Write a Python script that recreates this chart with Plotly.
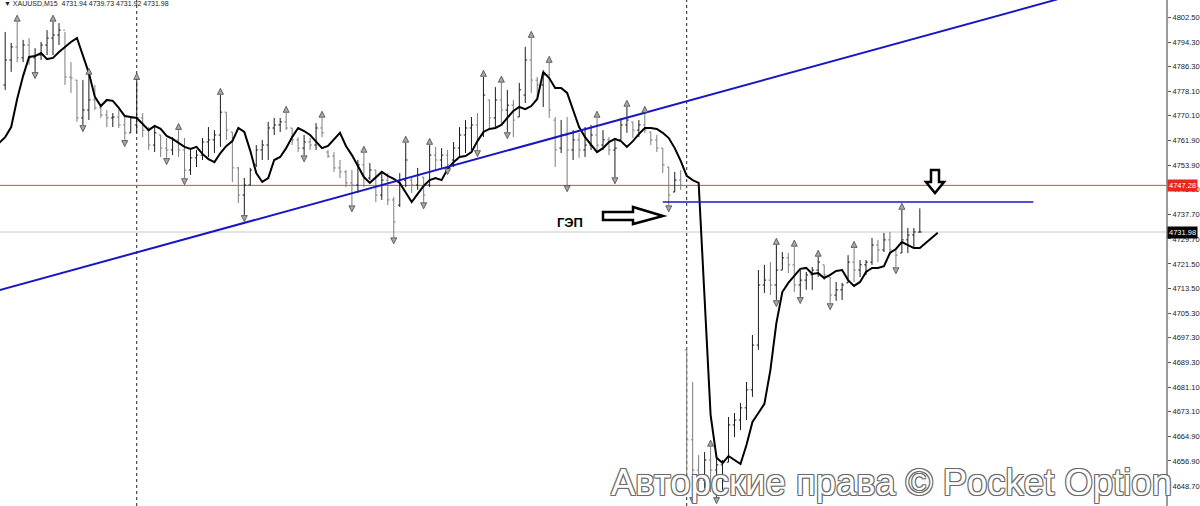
import plotly.graph_objects as go

# ---------------- data (XAUUSD, M15) ----------------
open_ = [
    4780.2, 4788.4, 4792.7, 4789.1, 4793.3, 4789.1, 4790.0, 4793.3, 4795.6, 4796.6,
    4798.2, 4782.8, 4781.8, 4769.4, 4772.0, 4775.3, 4772.7, 4770.4, 4769.4, 4769.7,
    4767.1, 4764.5, 4767.1, 4769.4, 4765.4, 4760.5, 4763.8, 4759.5, 4758.9, 4762.2,
    4758.9, 4752.3, 4756.3, 4757.2, 4761.5, 4762.2, 4763.8, 4771.3, 4764.8, 4753.0,
    4744.1, 4747.4, 4754.0, 4758.9, 4760.5, 4766.1, 4767.1, 4768.1, 4766.1, 4762.2,
    4759.5, 4761.5, 4760.5, 4766.1, 4758.2, 4756.9, 4753.0, 4751.7, 4748.1, 4747.4,
    4754.0, 4749.7, 4752.3, 4744.1, 4749.0, 4742.5, 4740.8, 4749.0, 4749.0, 4747.4,
    4750.0, 4747.4, 4757.2, 4755.6, 4757.2, 4755.6, 4759.5, 4763.8, 4766.1, 4767.1,
    4763.8, 4775.3, 4769.4, 4775.3, 4772.0, 4773.6, 4769.7, 4776.9, 4788.4, 4781.8,
    4780.2, 4783.5, 4768.7, 4759.5, 4763.8, 4758.9, 4762.2, 4758.9, 4760.5, 4763.8,
    4760.5, 4762.2, 4758.9, 4762.2, 4767.1, 4768.1, 4765.4, 4767.1, 4764.8, 4762.2,
    4759.5, 4753.3, 4745.1, 4749.0, 4693.3, 4663.8, 4653.9, 4650.6, 4657.2, 4653.9,
    4655.6, 4656.5, 4668.7, 4670.3, 4674.3, 4680.2, 4694.9, 4714.6, 4716.2, 4714.6,
    4719.5, 4723.5, 4721.2, 4714.6, 4716.2, 4717.9, 4719.5, 4721.2, 4717.2, 4711.3,
    4713.0, 4715.3, 4722.1, 4719.5, 4721.2, 4722.1, 4727.7, 4726.1, 4729.4, 4726.1,
    4725.1, 4729.4, 4731.0, 4731.94,
]
high = [
    4797.6, 4794.0, 4800.9, 4795.0, 4795.6, 4792.3, 4794.3, 4798.2, 4800.9, 4800.5,
    4797.6, 4787.7, 4781.8, 4781.8, 4783.5, 4780.2, 4773.6, 4772.0, 4771.0, 4772.0,
    4769.7, 4769.7, 4781.8, 4771.0, 4766.4, 4767.1, 4763.8, 4762.8, 4763.1, 4765.4,
    4762.8, 4758.9, 4758.9, 4762.8, 4766.4, 4765.4, 4776.9, 4771.3, 4764.8, 4753.3,
    4749.7, 4753.0, 4760.5, 4762.2, 4768.1, 4769.4, 4769.4, 4771.0, 4766.1, 4763.1,
    4763.8, 4762.8, 4767.7, 4769.4, 4758.9, 4758.2, 4755.6, 4752.3, 4752.3, 4755.6,
    4757.9, 4754.6, 4752.3, 4751.7, 4751.3, 4743.5, 4751.3, 4761.2, 4750.0, 4753.0,
    4750.0, 4760.5, 4759.9, 4759.5, 4758.9, 4761.5, 4766.4, 4768.7, 4769.7, 4771.0,
    4782.8, 4775.3, 4779.5, 4780.9, 4778.6, 4775.3, 4780.9, 4792.7, 4795.6, 4782.8,
    4785.1, 4787.4, 4769.7, 4768.7, 4769.7, 4765.4, 4764.5, 4766.4, 4767.1, 4769.4,
    4765.4, 4763.1, 4762.2, 4769.4, 4773.0, 4768.1, 4768.7, 4771.0, 4764.8, 4763.8,
    4759.5, 4753.3, 4751.7, 4752.3, 4694.3, 4682.8, 4658.8, 4659.8, 4661.5, 4658.8,
    4657.2, 4671.3, 4672.6, 4675.9, 4682.8, 4698.2, 4719.5, 4721.2, 4722.1, 4727.7,
    4725.4, 4725.1, 4727.1, 4719.5, 4718.9, 4720.5, 4723.8, 4721.2, 4717.2, 4715.6,
    4715.3, 4724.4, 4726.7, 4722.8, 4722.8, 4730.0, 4729.4, 4731.7, 4732.0, 4726.1,
    4739.2, 4733.3, 4733.3, 4739.73,
]
low = [
    4778.6, 4784.5, 4787.7, 4787.7, 4786.8, 4784.5, 4788.4, 4790.0, 4790.0, 4793.3,
    4780.2, 4777.6, 4768.1, 4767.1, 4768.7, 4772.0, 4769.4, 4766.4, 4766.4, 4766.1,
    4762.2, 4764.5, 4764.5, 4763.1, 4758.9, 4758.2, 4756.6, 4756.3, 4757.2, 4756.6,
    4749.7, 4750.7, 4753.3, 4755.6, 4756.6, 4757.9, 4759.9, 4762.2, 4748.4, 4741.5,
    4737.6, 4747.4, 4753.3, 4755.6, 4755.6, 4763.8, 4764.8, 4765.4, 4760.5, 4758.2,
    4757.2, 4758.9, 4758.9, 4763.1, 4756.3, 4751.7, 4749.7, 4746.7, 4740.8, 4744.8,
    4746.7, 4749.0, 4741.8, 4742.5, 4740.8, 4730.3, 4740.2, 4746.7, 4744.8, 4745.8,
    4741.8, 4746.7, 4752.3, 4753.0, 4753.0, 4753.3, 4756.6, 4757.9, 4758.9, 4758.9,
    4763.1, 4765.4, 4766.4, 4767.7, 4764.8, 4763.1, 4769.7, 4774.3, 4777.6, 4775.3,
    4773.0, 4769.4, 4753.3, 4757.9, 4747.4, 4755.6, 4756.3, 4756.6, 4758.9, 4757.9,
    4758.9, 4757.2, 4750.0, 4762.2, 4764.5, 4762.8, 4763.1, 4764.5, 4760.5, 4758.2,
    4751.3, 4740.8, 4745.1, 4745.8, 4646.1, 4645.1, 4647.4, 4648.0, 4646.7, 4645.1,
    4647.4, 4656.5, 4664.7, 4667.0, 4670.3, 4677.9, 4693.3, 4712.0, 4711.3, 4709.7,
    4719.5, 4718.5, 4712.3, 4710.7, 4713.0, 4713.0, 4717.2, 4716.2, 4708.7, 4709.4,
    4709.7, 4715.3, 4715.6, 4717.2, 4717.9, 4721.2, 4722.1, 4725.4, 4724.4, 4720.5,
    4725.1, 4725.1, 4727.1, 4731.92,
]
close = [
    4788.4, 4792.7, 4789.1, 4793.3, 4789.1, 4790.0, 4793.3, 4795.6, 4796.6, 4798.2,
    4782.8, 4782.5, 4769.4, 4772.0, 4775.3, 4772.7, 4770.4, 4769.4, 4769.7, 4767.1,
    4764.5, 4769.4, 4769.4, 4765.4, 4760.5, 4764.5, 4759.5, 4758.9, 4762.2, 4758.9,
    4752.3, 4756.3, 4757.2, 4761.5, 4762.2, 4763.8, 4771.3, 4765.4, 4753.0, 4744.1,
    4747.4, 4752.3, 4758.9, 4760.5, 4766.1, 4767.1, 4768.1, 4766.1, 4762.2, 4759.5,
    4761.5, 4760.5, 4766.1, 4764.5, 4756.9, 4753.0, 4751.7, 4748.1, 4747.4, 4754.0,
    4749.7, 4752.3, 4744.1, 4749.0, 4742.5, 4735.3, 4749.0, 4755.6, 4747.4, 4750.7,
    4744.1, 4757.2, 4755.6, 4757.2, 4754.0, 4759.5, 4763.8, 4766.1, 4767.1, 4762.2,
    4776.9, 4769.4, 4775.3, 4772.0, 4773.6, 4768.7, 4778.6, 4788.4, 4781.8, 4780.2,
    4783.5, 4772.0, 4758.9, 4763.8, 4758.9, 4762.2, 4758.9, 4760.5, 4763.8, 4760.5,
    4762.2, 4758.9, 4759.5, 4767.1, 4768.7, 4765.4, 4767.1, 4765.4, 4762.2, 4759.5,
    4754.0, 4744.1, 4749.0, 4747.3, 4663.8, 4653.9, 4650.6, 4657.2, 4653.9, 4655.6,
    4656.5, 4668.7, 4670.3, 4674.3, 4680.2, 4694.9, 4714.6, 4716.2, 4714.6, 4719.5,
    4723.5, 4721.2, 4714.6, 4716.2, 4717.9, 4719.5, 4722.1, 4717.9, 4711.3, 4713.0,
    4714.6, 4722.1, 4719.5, 4721.2, 4722.1, 4727.7, 4726.1, 4729.4, 4726.1, 4724.4,
    4729.4, 4731.0, 4732.0, 4731.98,
]
bar_x = list(range(len(close)))

# moving average (shifted forward by 3 bars), first value is at bar -1
ma = [
    4761.2,
    4763.1, 4766.4, 4775.6, 4783.2, 4789.4, 4789.7, 4790.7, 4788.7, 4789.1, 4791.0,
    4792.7, 4794.3, 4795.6, 4790.0, 4784.1, 4776.3, 4773.3, 4775.3, 4775.0, 4772.7,
    4770.0, 4769.7, 4769.4, 4767.4, 4765.4, 4766.8, 4765.8, 4763.5, 4762.5, 4761.2,
    4759.9, 4759.2, 4759.9, 4757.6, 4755.9, 4754.9, 4757.9, 4760.2, 4761.8, 4766.1,
    4764.8, 4758.6, 4751.3, 4748.4, 4749.7, 4755.6, 4756.6, 4759.5, 4763.1, 4766.1,
    4765.1, 4763.8, 4761.5, 4759.5, 4760.2, 4762.2, 4764.5, 4760.2, 4757.2, 4753.6,
    4750.0, 4748.1, 4750.0, 4751.7, 4750.4, 4749.4, 4748.1, 4744.8, 4741.8, 4744.5,
    4747.1, 4749.0, 4749.7, 4749.0, 4752.6, 4754.9, 4756.6, 4756.9, 4758.2, 4761.8,
    4764.8, 4765.8, 4766.1, 4767.1, 4769.4, 4771.7, 4773.0, 4772.3, 4773.3, 4775.6,
    4784.5, 4782.5, 4779.2, 4779.2, 4777.6, 4772.0, 4766.4, 4763.1, 4760.5, 4758.2,
    4759.5, 4761.5, 4762.5, 4761.8, 4759.9, 4761.8, 4764.1, 4766.1, 4766.1, 4765.8,
    4764.5, 4762.8, 4759.5, 4755.3, 4750.4, 4749.0, 4748.1, 4710.3, 4672.0, 4657.9,
    4656.2, 4658.5, 4657.2, 4655.9, 4662.1, 4669.7, 4672.6, 4675.6, 4686.7, 4702.1,
    4712.3, 4715.3, 4717.6, 4719.9, 4720.2, 4718.2, 4718.5, 4716.9, 4717.9, 4719.2,
    4719.5, 4716.2, 4714.3, 4715.6, 4718.9, 4720.2, 4720.2, 4720.8, 4725.1, 4726.4,
    4728.7, 4727.7, 4726.7, 4726.7, 4728.4, 4730.3, 4731.7,
]
ma_x = list(range(-1, -1 + len(ma)))

# fractal bars
frac_up = [2, 8, 14, 22, 29, 36, 47, 53, 60, 67, 71, 80, 83, 88, 91, 99, 104, 107,
           118, 129, 132, 136, 142, 150]
frac_dn = [5, 13, 20, 27, 30, 40, 50, 58, 65, 70, 74, 79, 84, 94, 102, 111, 115, 119,
           129, 133, 138, 149]

# price scale ticks
tick_vals = [4802.50, 4794.30, 4786.30, 4778.10, 4770.10, 4761.90, 4753.90, 4745.90,
             4737.70, 4729.70, 4721.50, 4713.50, 4705.30, 4697.30, 4689.30, 4681.10,
             4673.10, 4664.90, 4656.90, 4648.70]
tick_text = [f"{v:.2f}" for v in tick_vals]

# chart objects
level_red = 4747.28
level_last = 4731.98
gap_level = 4741.8
gap_line_bars = [110, 172]
trend_x = [-2, 176]
trend_y = [4712.35, 4808.29]
separators = [22, 114]
header = "▼ XAUUSD,M15  4731.94 4739.73 4731.92 4731.98"
gap_label = "ГЭП"
watermark = "Авторские права © Pocket Option"

# ---------------- figure ----------------
W, H = 1200, 506
PLOT_W = 1166
x_range = [-0.87, 194.18]
y_range = [4642.11, 4808.08]
frac_off = 2.2


def pp(xp, yp):
    return xp / PLOT_W, 1 - yp / H


def path(points):
    s = ""
    for k, (a, b) in enumerate(points):
        xa, yb = pp(a, b)
        s += ("M" if k == 0 else "L") + f"{xa:.5f},{yb:.5f} "
    return s + "Z"


fig = go.Figure()

fig.add_trace(go.Ohlc(
    x=bar_x, open=open_, high=high, low=low, close=close,
    increasing=dict(line=dict(color="#1c1c1c", width=1)),
    decreasing=dict(line=dict(color="#7c7c7c", width=1)),
    tickwidth=0.3, hoverinfo="skip", showlegend=False,
))

fig.add_trace(go.Scatter(
    x=ma_x, y=ma, mode="lines", line=dict(color="black", width=2),
    hoverinfo="skip", showlegend=False,
))

fig.add_trace(go.Scatter(
    x=trend_x, y=trend_y, mode="lines", line=dict(color="#1717c4", width=2),
    hoverinfo="skip", showlegend=False,
))

fig.add_trace(go.Scatter(
    x=gap_line_bars, y=[gap_level, gap_level], mode="lines",
    line=dict(color="#1717c4", width=1.5), hoverinfo="skip", showlegend=False,
))

fig.add_trace(go.Scatter(
    x=frac_up, y=[high[i] + frac_off for i in frac_up], mode="markers",
    marker=dict(symbol="arrow-up", size=6, color="#a8a8a8",
                line=dict(color="#333333", width=0.7)),
    hoverinfo="skip", showlegend=False,
))
fig.add_trace(go.Scatter(
    x=frac_dn, y=[low[i] - frac_off for i in frac_dn], mode="markers",
    marker=dict(symbol="arrow-down", size=6, color="#a8a8a8",
                line=dict(color="#333333", width=0.7)),
    hoverinfo="skip", showlegend=False,
))

shapes = []
for s in separators:
    shapes.append(dict(type="line", xref="x", yref="paper", x0=s, x1=s, y0=0, y1=1,
                       line=dict(color="#222222", width=1, dash="dot"), layer="below"))
shapes.append(dict(type="line", xref="paper", yref="y", x0=0, x1=1, y0=level_red, y1=level_red,
                   line=dict(color="#cf4a4a", width=1), layer="below"))
shapes.append(dict(type="line", xref="paper", yref="y", x0=0, x1=1, y0=level_last, y1=level_last,
                   line=dict(color="#c8c8c8", width=1), layer="below"))
# hollow arrows (drawn objects)
shapes.append(dict(type="path", xref="paper", yref="paper",
                   path=path([(603, 212), (633, 212), (633, 207), (663, 216), (633, 224),
                              (633, 220), (603, 220)]),
                   line=dict(color="black", width=2.5), fillcolor="white"))
shapes.append(dict(type="path", xref="paper", yref="paper",
                   path=path([(931, 170), (939, 170), (939, 182), (944, 182), (935, 193),
                              (926, 182), (931, 182)]),
                   line=dict(color="black", width=2.5), fillcolor="white"))

annotations = [
    dict(xref="paper", yref="y", x=1, y=level_red, xanchor="left", yanchor="middle",
         xshift=1, text="4747.28", showarrow=False, bgcolor="#e8251f",
         font=dict(family="Liberation Sans, Arial", size=7.5, color="white"), borderpad=1),
    dict(xref="paper", yref="y", x=1, y=level_last, xanchor="left", yanchor="middle",
         xshift=1, text="4731.98", showarrow=False, bgcolor="#000000",
         font=dict(family="Liberation Sans, Arial", size=7.5, color="white"), borderpad=1),
    dict(xref="paper", yref="paper", x=pp(2, 0)[0], y=1, xanchor="left", yanchor="top",
         yshift=2, text=header, showarrow=False,
         font=dict(family="Liberation Sans, Arial", size=7, color="#222222")),
    dict(xref="paper", yref="paper", x=pp(570, 222)[0], y=pp(570, 222)[1],
         xanchor="center", yanchor="middle", text="<b>" + gap_label + "</b>", showarrow=False,
         font=dict(family="Liberation Sans, Arial", size=13, color="black")),
    dict(xref="paper", yref="paper", x=pp(891, 482)[0], y=pp(891, 482)[1],
         xanchor="center", yanchor="middle", text=watermark, showarrow=False,
         font=dict(family="Liberation Sans, Arial", size=36.5, color="#ffffff",
                   shadow="-1px -1px 0 #6a6a6a, 1px -1px 0 #6a6a6a, -1px 1px 0 #6a6a6a, "
                          "1px 1px 0 #6a6a6a, 0 0 2px #8a8a8a")),
]

fig.update_layout(
    width=W, height=H,
    margin=dict(l=0, r=W - PLOT_W, t=0, b=0),
    paper_bgcolor="white", plot_bgcolor="white",
    showlegend=False,
    shapes=shapes, annotations=annotations,
    xaxis=dict(range=x_range, visible=False, showgrid=False, zeroline=False,
               rangeslider=dict(visible=False), fixedrange=True),
    yaxis=dict(range=y_range, side="right", showgrid=False, zeroline=False,
               showline=True, linecolor="#9a9a9a", linewidth=2,
               ticks="outside", ticklen=3, tickcolor="#555555",
               tickvals=tick_vals, ticktext=tick_text,
               tickfont=dict(family="Liberation Sans, Arial", size=7.5, color="#222222"),
               fixedrange=True),
)

fig.write_html(
    "out.html",
    config={"displayModeBar": False},
    post_script="document.body.style.margin='0';document.body.style.overflow='hidden';",
)
